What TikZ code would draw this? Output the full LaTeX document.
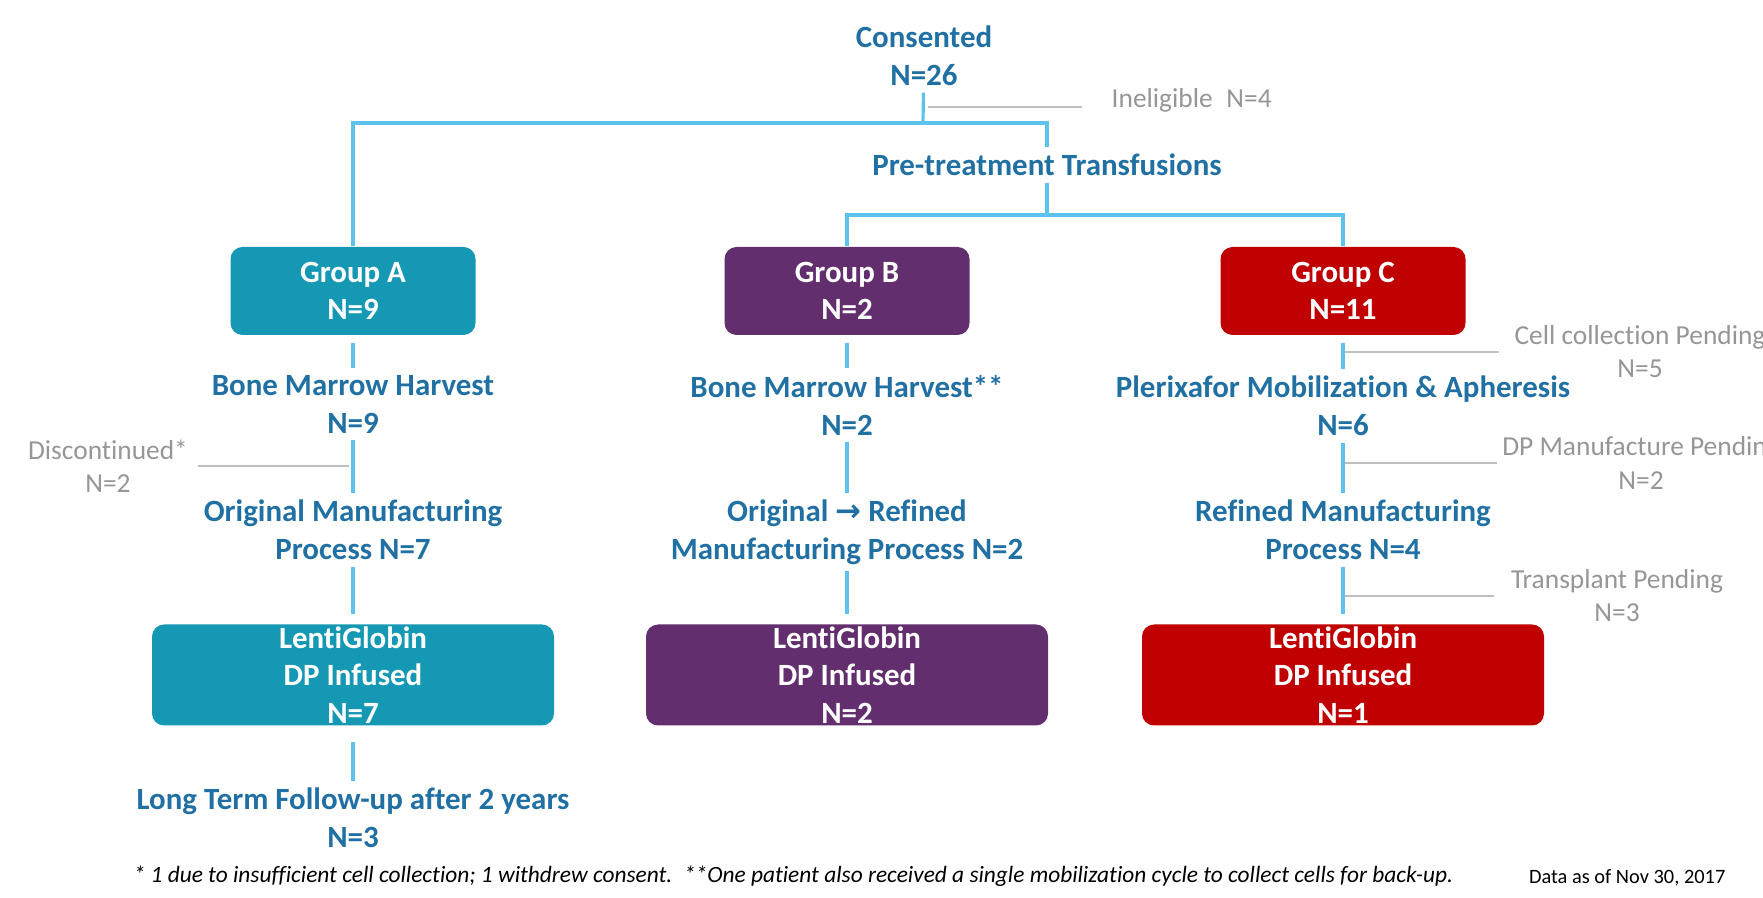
\documentclass[tikz,border=0pt]{standalone}
\usepackage{fontspec}
\setmainfont{Carlito}[Ligatures=NoCommon]
\newfontfamily\arrowfont{DejaVu Sans}

\definecolor{grpA}{RGB}{21,152,180}
\definecolor{grpB}{RGB}{98,46,110}
\definecolor{grpC}{RGB}{192,0,0}
\definecolor{txtblue}{RGB}{33,112,163}
\definecolor{linkblue}{RGB}{92,195,236}
\definecolor{sidegray}{RGB}{150,150,150}

\begin{document}
\begin{tikzpicture}[x=0.1mm,y=-0.1mm,
    stage/.style={text=txtblue, font=\fontsize{8.8}{10.8}\selectfont\bfseries, align=center, inner sep=0.6mm},
    grp/.style={rounded corners=1.2mm, text=white, font=\fontsize{8.8}{10.6}\selectfont\bfseries, align=center, minimum width=24.5mm, minimum height=8.8mm},
    dp/.style={grp, minimum width=40.2mm, minimum height=10.1mm, inner ysep=-1pt},
    side/.style={text=sidegray, font=\fontsize{7.8}{9.4}\selectfont, align=center, inner sep=0.5mm},
    link/.style={draw=linkblue, line width=0.9pt},
    sideline/.style={draw=sidegray!60, line width=0.8pt}]
    \useasboundingbox (0,0) rectangle (1763,898);

    % top of the tree
    \node[stage] (cons) at (924,56) {Consented\\N=26};
    \node[side, anchor=west] (inel) at (1106,100) {Ineligible\enspace N=4};
    \node[stage] (pre) at (1047,165) {Pre-treatment Transfusions};
    \coordinate (split1) at (923,123);
    \coordinate (split2) at (1047,215);

    % groups
    \node[grp, fill=grpA] (gA) at (353,291) {Group A\\N=9};
    \node[grp, fill=grpB] (gB) at (847,291) {Group B\\N=2};
    \node[grp, fill=grpC] (gC) at (1343,291) {Group C\\N=11};

    % cell collection
    \node[stage] (bmA) at (353,404) {Bone Marrow Harvest\\N=9};
    \node[stage] (bmB) at (847,405) {Bone Marrow Harvest**\\N=2};
    \node[stage] (pmC) at (1343,406) {Plerixafor Mobilization \& Apheresis\\N=6};

    % manufacturing
    \node[stage] (omA) at (353,530) {Original Manufacturing\\Process N=7};
    \node[stage] (omB) at (847,532) {Original {\arrowfont\bfseries →} Refined\\Manufacturing Process N=2};
    \node[stage] (rmC) at (1343,530) {Refined Manufacturing\\Process N=4};

    % infused
    \node[dp, fill=grpA] (lgA) at (353,675) {LentiGlobin\\DP Infused\\N=7};
    \node[dp, fill=grpB] (lgB) at (847,675) {LentiGlobin\\DP Infused\\N=2};
    \node[dp, fill=grpC] (lgC) at (1343,675) {LentiGlobin\\DP Infused\\N=1};
    \node[stage] (ltA) at (353,818) {Long Term Follow-up after 2 years\\N=3};

    % drop-outs
    \node[side] (disc) at (108,466) {Discontinued*\\N=2};
    \node[side] (cellP) at (1640,352) {Cell collection Pending\\N=5};
    \node[side] (dpP) at (1641,463) {DP Manufacture Pending\\N=2};
    \node[side] (trP) at (1617,596) {Transplant Pending\\N=3};

    % connectors
    \draw[link] (cons) -- (split1);
    \draw[link] (gA.north) -- (gA.north |- split1) -- (pre.north |- split1) -- (pre.north);
    \draw[link] (pre) -- (split2);
    \draw[link] (gB.north) -- (gB.north |- split2) -- (gC.north |- split2) -- (gC.north);
    \foreach \a/\b/\c/\d in {gA/bmA/omA/lgA, gB/bmB/omB/lgB, gC/pmC/rmC/lgC} {
        \draw[link, shorten <=0.7mm] (\a) -- (\b);
        \draw[link] (\b) -- (\c);
        \draw[link, shorten >=1mm] (\c) -- (\d);
    }
    \draw[link, shorten <=1.6mm] (lgA) -- (ltA);
    \draw[sideline] ([xshift=0.5mm]split1 |- 0,107) -- ([xshift=-2.4mm]inel.west |- 0,107);
    \draw[sideline] ([xshift=0.4mm]disc.east) -- ([xshift=-0.4mm]disc.east -| gA);
    \draw[sideline] ([xshift=0.2mm]gC |- cellP) -- ([xshift=-1mm]cellP.west);
    \draw[sideline] ([xshift=0.2mm]gC |- dpP) -- (dpP.west);
    \draw[sideline] ([xshift=0.2mm]gC |- trP) -- ([xshift=-1.1mm]trP.west);

    % notes
    \node[anchor=west, font=\fontsize{6.65}{8}\selectfont\itshape, inner sep=0] (foot) at (133,876)
        {* 1 due to insufficient cell collection; 1 withdrew consent.\enspace **One patient also received a single mobilization cycle to collect cells for back-up.};
    \node[anchor=east, font=\fontsize{5.8}{7}\selectfont, inner sep=0] (date) at (1726,878) {Data as of Nov 30, 2017};
\end{tikzpicture}
\end{document}
